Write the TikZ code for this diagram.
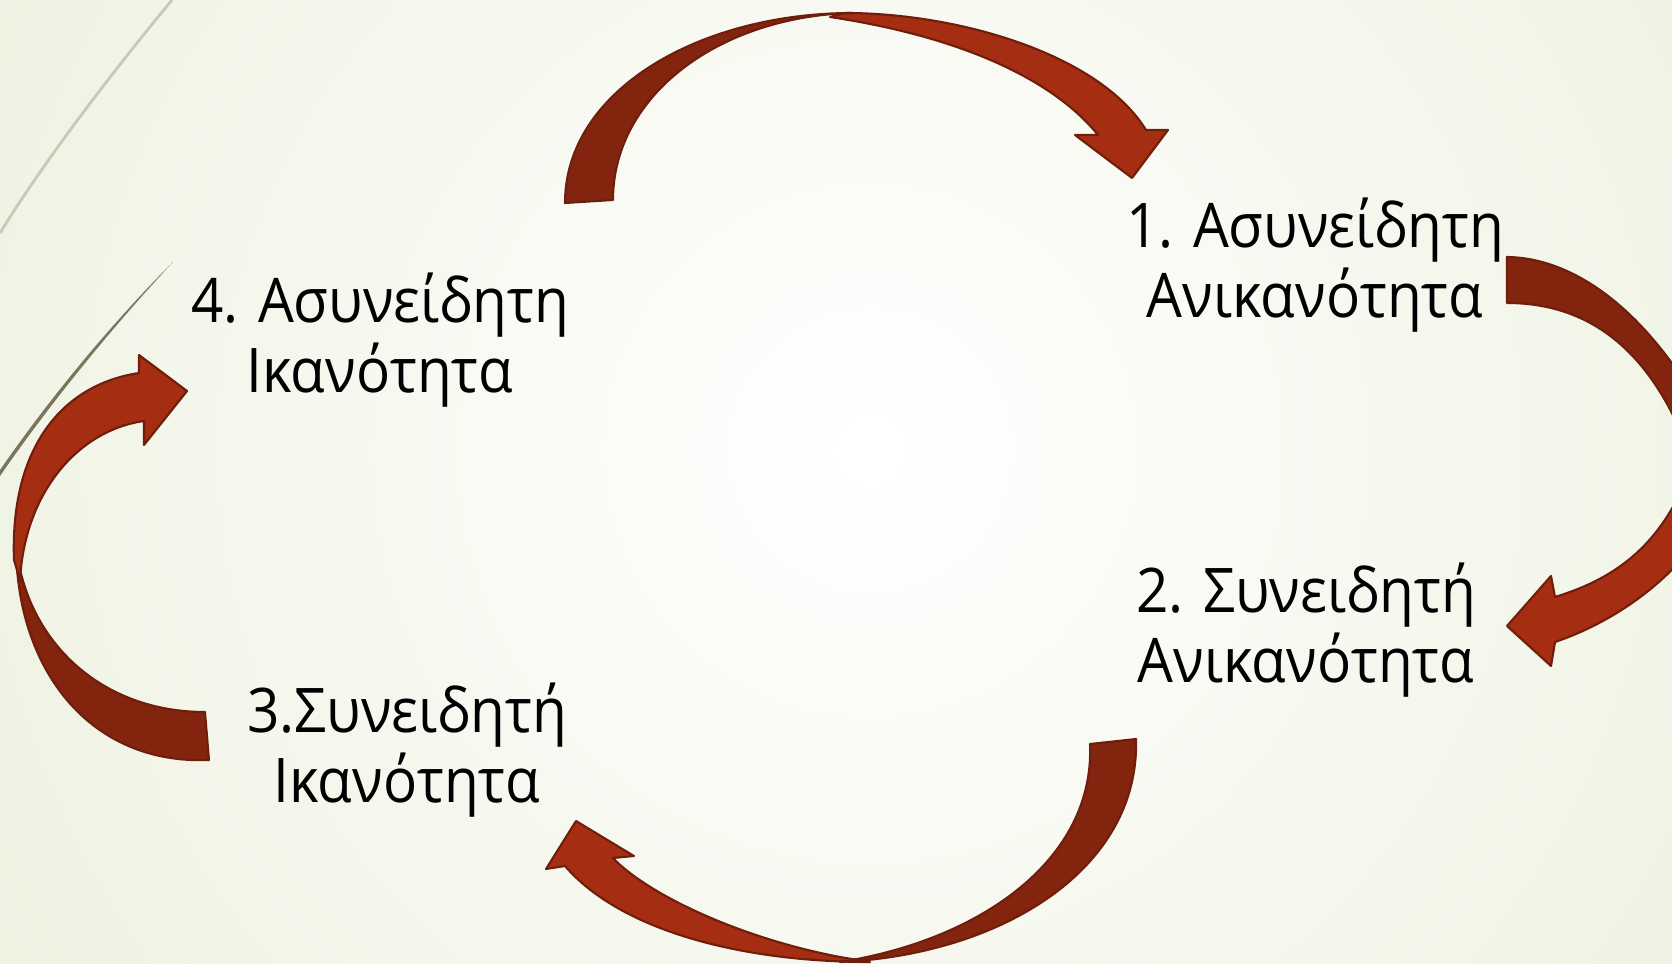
\documentclass[tikz,border=0pt]{standalone}
\usepackage{fontspec}
\setmainfont{Open Sans}[FakeStretch=0.92]
\definecolor{arrowlight}{RGB}{165,45,18}
\definecolor{arrowdark}{RGB}{130,36,14}
\definecolor{arrowedge}{RGB}{112,30,12}
\definecolor{bgedge}{RGB}{226,233,204}
\definecolor{thinline}{RGB}{200,201,182}
\definecolor{darkline}{RGB}{122,117,92}
\tikzset{
  darkband/.style={fill=arrowdark,draw=arrowedge,line width=0.6pt,line join=round},
  lightband/.style={fill=arrowlight,draw=arrowedge,line width=0.6pt,line join=round},
  stage/.style={align=center,inner sep=0pt,font=\fontsize{17.5}{19.8}\selectfont}
}
\begin{document}
\begin{tikzpicture}[x=0.01cm,y=-0.01cm]
\useasboundingbox (0,0) rectangle (1672,964);
\clip (0,0) rectangle (1672,964);
% background
\shade[inner color=white,outer color=bgedge] (870,450) circle (1700);
\draw[thinline,line width=0.8pt] (172,0) .. controls (110,75) and (45,160) .. (0,233);
\fill[darkline] (173,262) .. controls (105,330) and (45,405) .. (0,470) -- (0,476) .. controls (47,408) and (107,333) .. (173,262);
% top arrow
\draw[lightband] (845,13) .. controls (960,13) and (1100,55) .. (1146,130) -- (1168,130) -- (1132,178) -- (1075,135) -- (1098,135) .. controls (1062,90) and (982,40) .. (830,17) -- cycle;
\draw[darkband] (565,203) .. controls (565,90) and (700,13) .. (853,13) .. controls (720,16) and (613,95) .. (613,200) -- cycle;
% right arrow
\draw[darkband] (1507,257) .. controls (1575,258) and (1640,310) .. (1690,390) -- (1740,480) -- (1700,500) -- (1680,430) .. controls (1640,340) and (1580,303) .. (1507,303) -- cycle;
\draw[lightband] (1690,470) .. controls (1660,550) and (1610,580) .. (1555,597) -- (1551,576) -- (1507,626) -- (1551,666) -- (1555,642) .. controls (1620,620) and (1690,570) .. (1720,500) -- cycle;
% bottom arrow
\draw[lightband] (870,962) .. controls (740,962) and (620,930) .. (565,866) -- (546,869) -- (576,821) -- (634,856) -- (613,858) .. controls (645,892) and (735,937) .. (840,957) -- cycle;
\draw[darkband] (1136,739) .. controls (1140,870) and (1000,955) .. (840,962) .. controls (980,940) and (1095,860) .. (1090,744) -- cycle;
% left arrow
\draw[darkband] (209,760) .. controls (90,765) and (16,670) .. (16,544) .. controls (25,640) and (100,712) .. (205,712) -- cycle;
\draw[lightband] (14,560) .. controls (10,450) and (60,385) .. (139,373) -- (139,355) -- (187,391) -- (144,445) -- (144,421) .. controls (80,430) and (25,490) .. (20,580) -- cycle;
% stages
\node[stage] (s1) at (1315,265) {1. Ασυνείδητη\\Ανικανότητα};
\node[stage] (s2) at (1306,630) {2. Συνειδητή\\Ανικανότητα};
\node[stage] (s3) at (407,750) {3.Συνειδητή\\Ικανότητα};
\node[stage] (s4) at (380,340) {4. Ασυνείδητη\\Ικανότητα};
\end{tikzpicture}
\end{document}
